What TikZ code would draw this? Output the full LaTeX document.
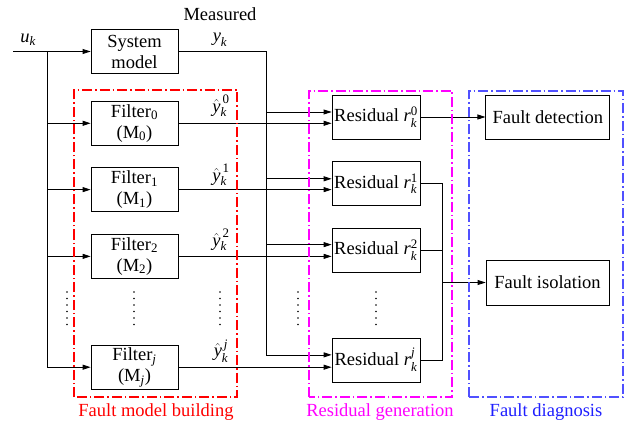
\documentclass[tikz,border=0pt]{standalone}
\usepackage{amsmath}
\usepackage{fontspec}
\setmainfont{Liberation Serif}
\usepackage{tikz}
\usetikzlibrary{arrows.meta,positioning,calc}
\definecolor{framered}{RGB}{255,0,0}
\definecolor{framemag}{RGB}{255,0,255}
\definecolor{frameblue}{RGB}{80,80,255}
\definecolor{textblue}{RGB}{30,30,255}
\newfontfamily\timesface{Liberation Serif}
\newcommand{\yest}[1]{$\hat{\textit{y}}_{\textit{k}}^{\,#1}$}
\newcommand{\resid}[1]{Residual $\textit{r}_{\textit{k}}^{#1}$}

\begin{document}
\begin{tikzpicture}[
    x=1pt, y=1pt,
    font=\timesface\fontsize{18.5}{21}\selectfont,
    box/.style={rectangle, draw, line width=0.8pt, minimum width=87pt,
                minimum height=44pt, align=center, inner sep=1pt},
    widebox/.style={box, minimum width=124pt},
    arrow/.style={-{Triangle[length=8pt,width=5pt]}, line width=0.8pt},
    wire/.style={line width=0.8pt},
    frame/.style={line width=1.2pt, dash pattern=on 10pt off 3pt on 1.5pt off 3pt},
    vdots/.style={line width=1.6pt, line cap=round, dash pattern=on 0pt off 6.5pt},
    lbl/.style={inner sep=0pt}
]
\useasboundingbox (0,0) rectangle (631,426);

% Column 1: system and filters
\node[box] (sys) at (134.5,374.5) {System\\model};
\node[box, below=27pt of sys] (filt0) {Filter\textsubscript{0}\\(M\textsubscript{0})};
\node[box, below=21.5pt of filt0] (filt1) {Filter\textsubscript{1}\\(M\textsubscript{1})};
\node[box, below=22pt of filt1] (filt2) {Filter\textsubscript{2}\\(M\textsubscript{2})};
\node[box, below=66pt of filt2] (filtj) {Filter\textsubscript{\textit{j}}\\(M\textsubscript{\textit{j}})};

% Column 2: residuals
\node[box, minimum width=88pt] (res0) at (376,309) {\resid{\text{0}}};
\node[box, minimum width=88pt, below=22pt of res0] (res1) {\resid{\text{1}}};
\node[box, minimum width=88pt, below=21.5pt of res1] (res2) {\resid{\text{2}}};
\node[box, minimum width=88pt, below=65pt of res2] (resj) {\resid{\textit{j}}};

% Column 3: diagnosis
\node[widebox, right=65pt of res0] (detect) {Fault detection};
\node[widebox, minimum width=123pt, minimum height=45pt] (isolate) at (547.5,143.5) {Fault isolation};

% Signal labels
\node[lbl] (uk) at (28,386) {$\textit{u}_{\textit{k}}$};
\node[lbl] (measured) at (220,412) {Measured};
\node[lbl] (yk) at (220,386) {$\textit{y}_{\textit{k}}$};
\node[lbl] (yest0) at (221,320) {\yest{\text{0}}};
\node[lbl] (yest1) at (221,251) {\yest{\text{1}}};
\node[lbl] (yest2) at (221,186) {\yest{\text{2}}};
\node[lbl] (yestj) at (221,75) {\yest{\textit{j}}};

% Bus coordinates
\coordinate (uin) at (13,374.5);
\coordinate (ubus) at (47,374.5);
\coordinate (ybus) at (266,374.5);
\coordinate (rbus) at (442,143.5);
\coordinate (in0) at ($(res0.west)+(0,5)$);
\coordinate (in1) at ($(res1.west)+(0,5)$);
\coordinate (in2) at ($(res2.west)+(0,5.5)$);
\coordinate (inj) at ($(resj.west)+(0,5)$);

% Input distribution
\draw[arrow] (uin) -- (sys.west);
\draw[wire] (ubus) -- (ubus |- filtj.west);
\draw[arrow] (ubus |- filt0.west) -- (filt0.west);
\draw[arrow] (ubus |- filt1.west) -- (filt1.west);
\draw[arrow] (ubus |- filt2.west) -- (filt2.west);
\draw[arrow] (ubus |- filtj.west) -- (filtj.west);

% Measured output
\draw[wire] (sys.east) -- (ybus) -- (ybus |- inj);
\draw[arrow] (ybus |- in0) -- (in0);
\draw[arrow] (ybus |- in1) -- (in1);
\draw[arrow] (ybus |- in2) -- (in2);
\draw[arrow] (ybus |- inj) -- (inj);

% Filter outputs
\draw[arrow] (filt0.east) -- (filt0.east -| res0.west);
\draw[arrow] (filt1.east) -- (filt1.east -| res1.west);
\draw[arrow] (filt2.east) -- (filt2.east -| res2.west);
\draw[arrow] (filtj.east) -- (filtj.east -| resj.west);

% Residual outputs
\draw[arrow] (res0) -- (detect);
\draw[wire] (res1.east) -| (rbus);
\draw[wire] (res2.east) -| (rbus);
\draw[wire] (resj.east) -| (rbus);
\draw[arrow] (rbus) -- (isolate.west);

% Dots
\foreach \x in {67,134,220,298,376}
  \draw[vdots] (\x,134) -- (\x,100);

% Group frames
\draw[frame, framered] (74,29) rectangle (237,336);
\draw[frame, framemag] (309,29) rectangle (452,335);
\draw[frame, frameblue] (469,29) rectangle (623,335);
\node[lbl, text=framered] (lblbuild) at (156,14) {Fault model building};
\node[lbl, text=framemag] (lblgen) at (380,14) {Residual generation};
\node[lbl, text=textblue] (lbldiag) at (546,14) {Fault diagnosis};

\end{tikzpicture}
\end{document}
